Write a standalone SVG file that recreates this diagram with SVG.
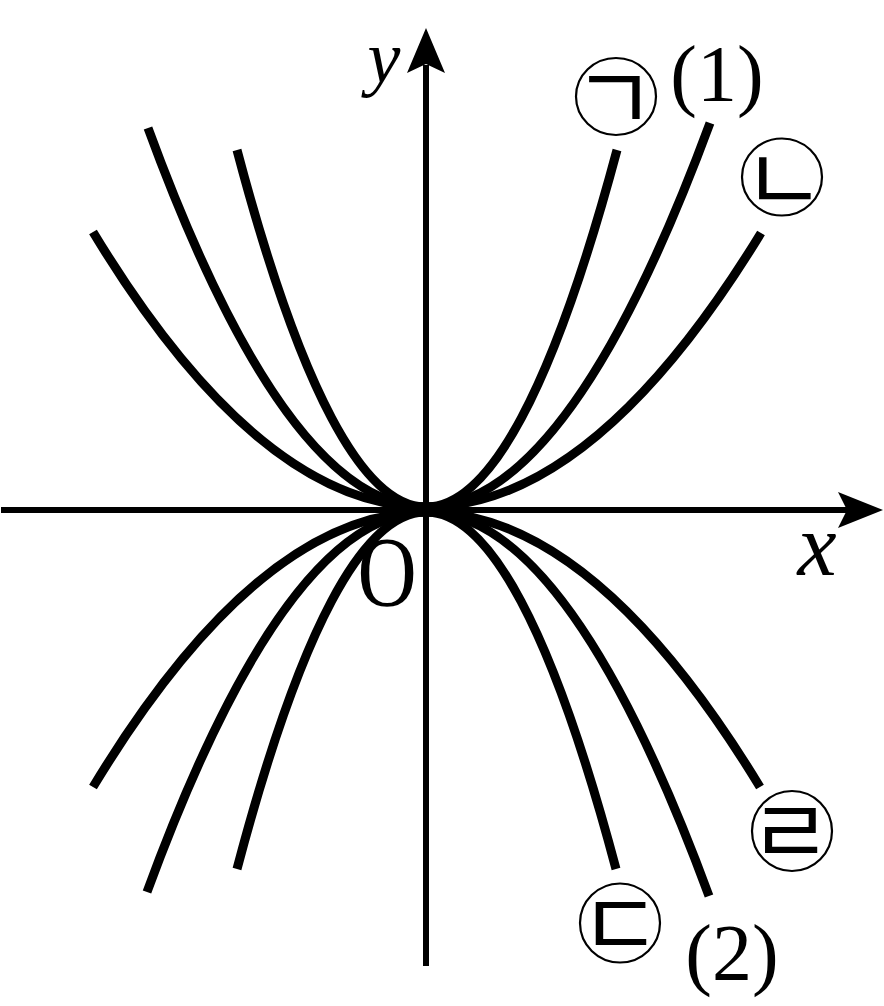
<svg xmlns="http://www.w3.org/2000/svg" width="884" height="1006" viewBox="0 0 884 1006">
<style>
.axis{stroke:#000;stroke-width:6;fill:none}
.curve{stroke:#000;stroke-width:9;fill:none;stroke-linecap:butt}
.ring{stroke:#000;stroke-width:2.2;fill:none}
.jamo{font-family:"Noto Sans CJK KR",sans-serif;font-size:90px;font-weight:400;text-anchor:middle;fill:#000}
.num{font-family:"Liberation Serif",serif;font-size:80px;text-anchor:middle;fill:#000}
.var{font-family:"Liberation Serif",serif;font-style:italic;font-size:88px;text-anchor:middle;fill:#000}
</style>
<rect width="884" height="1006" fill="#fff"/>
<g id="axes">
<line class="axis" x1="1" y1="510" x2="850" y2="510"/>
<polygon points="883,510 838,492 847,510 838,528" fill="#000"/>
<line class="axis" x1="426" y1="966" x2="426" y2="65"/>
<polygon points="426,28 407,73 426,64 445,73" fill="#000"/>
</g>
<g id="curves">
<g id="curve-giyeok"><path class="curve" d="M237,150 Q331.5,507 426,507 Q521.5,507 617,150"/></g>
<g id="curve-1"><path class="curve" d="M148,128 Q287,507 426,507 Q568,507 710,123"/></g>
<g id="curve-nieun"><path class="curve" d="M93,232 Q259.5,507 426,507 Q593.5,507 761,233"/></g>
<g id="curve-digeut"><path class="curve" d="M237,869 Q331.5,512 426,512 Q521,512 616,869"/></g>
<g id="curve-2"><path class="curve" d="M147,892 Q286.5,512 426,512 Q567.5,512 709,896"/></g>
<g id="curve-rieul"><path class="curve" d="M93,787 Q259.5,512 426,512 Q593,512 760,787"/></g>
</g>
<g id="labels">
<text class="var" x="384" y="82" style="font-size:74px">y</text>
<text class="var" x="817" y="575">x</text>
<text class="num" x="0" y="0" style="font-size:100px" transform="translate(387,605) scale(0.82,1)">O</text>
<text class="num" x="717" y="101">(1)</text>
<text class="num" x="732" y="980">(2)</text>
<g id="label-giyeok"><ellipse class="ring" cx="616" cy="96.5" rx="40" ry="38.5"/><text class="jamo" x="614.5" y="131">ㄱ</text></g>
<g id="label-nieun"><ellipse class="ring" cx="782" cy="177" rx="40" ry="38.5"/><text class="jamo" x="784" y="211.5">ㄴ</text></g>
<g id="label-digeut"><ellipse class="ring" cx="620" cy="923" rx="40" ry="39.5"/><text class="jamo" x="620.5" y="957">ㄷ</text></g>
<g id="label-rieul"><ellipse class="ring" cx="792" cy="831" rx="40" ry="40"/><text class="jamo" x="790.5" y="863.5">ㄹ</text></g>
</g>
</svg>
